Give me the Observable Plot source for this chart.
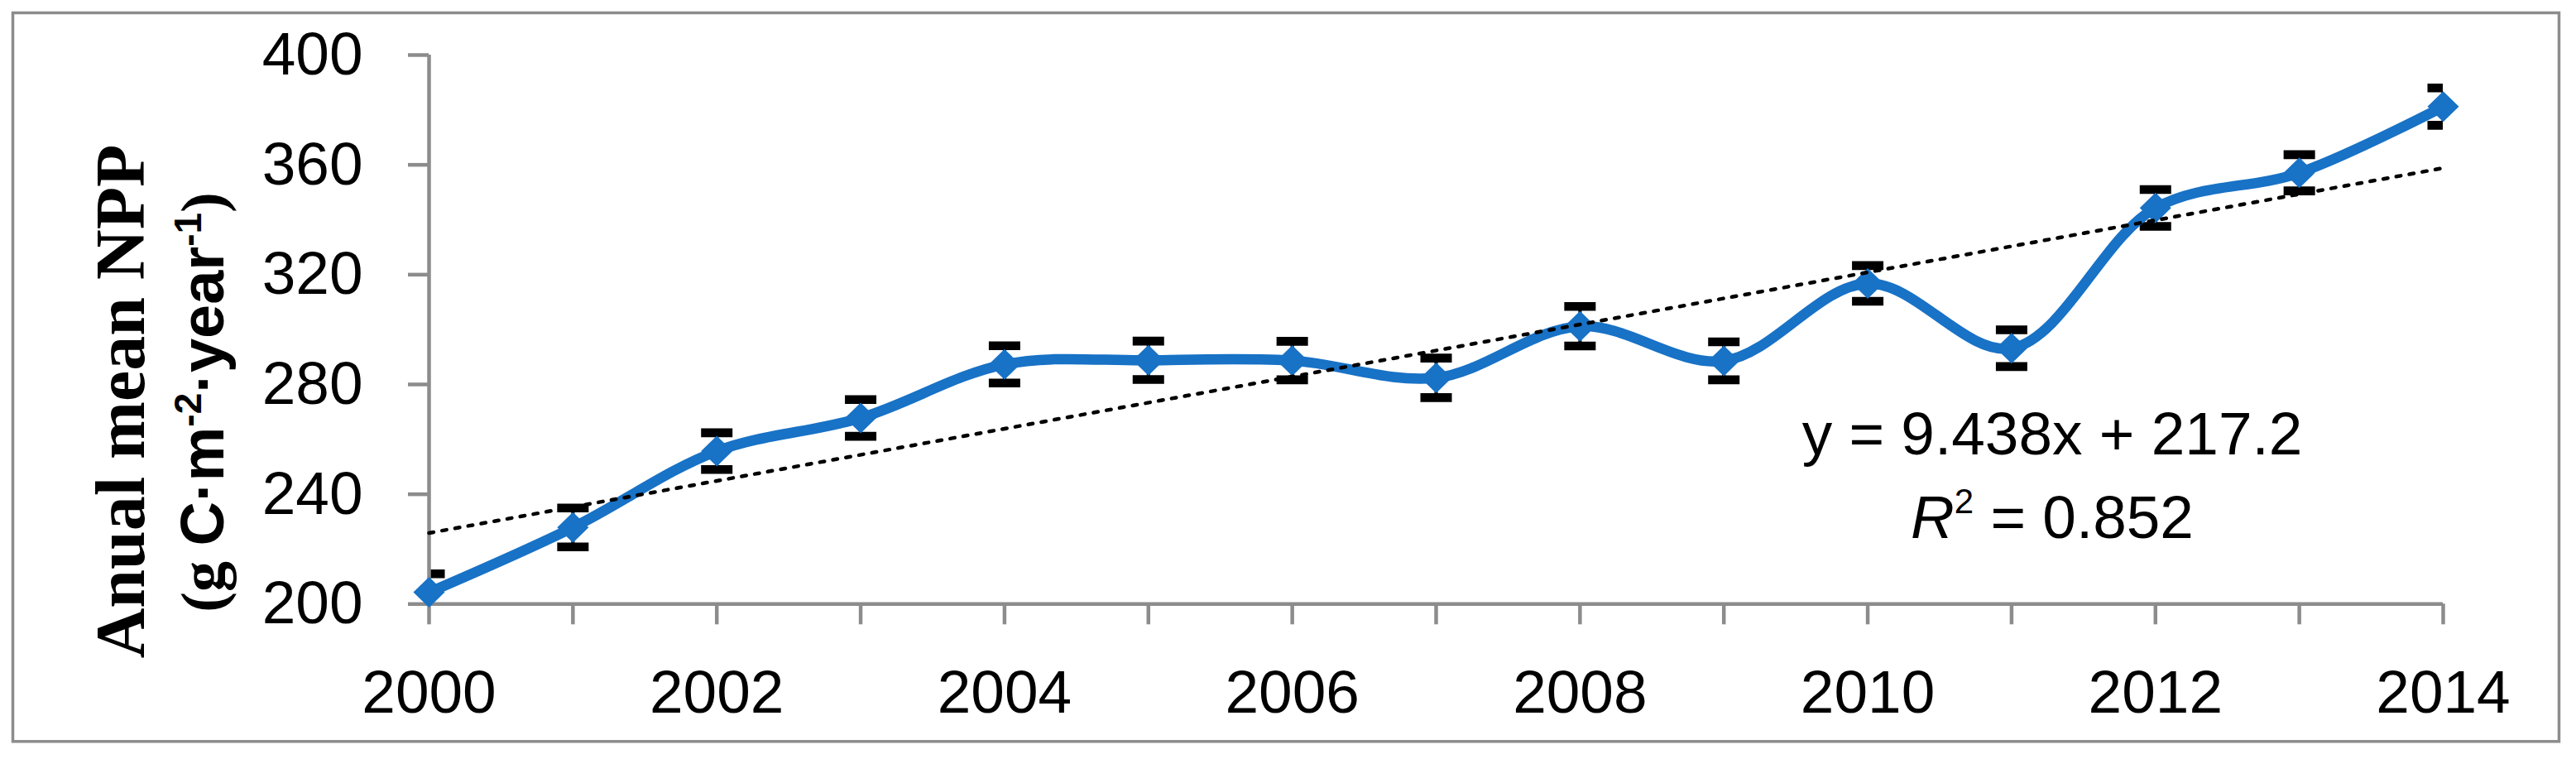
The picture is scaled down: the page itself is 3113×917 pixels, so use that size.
<!DOCTYPE html>
<html>
<head>
<meta charset="utf-8">
<script src="https://cdn.jsdelivr.net/npm/d3@7"></script>
<script src="https://cdn.jsdelivr.net/npm/@observablehq/plot@0.6"></script>
<style>
  html, body { margin: 0; padding: 0; background: #fff; overflow: hidden; }
  #chart { width: 3113px; height: 917px; }
</style>
</head>
<body>
<div id="chart"></div>
<script>
// ---- data ----
const years = [2000, 2001, 2002, 2003, 2004, 2005, 2006, 2007, 2008, 2009, 2010, 2011, 2012, 2013, 2014];
const npp   = [204.3, 227.9, 255.7, 267.8, 287.3, 288.8, 288.7, 282.4, 301.2, 288.6, 316.8, 293.2, 344.3, 357.1, 381.2];
const errs  = [6.7, 7.1, 6.7, 6.7, 6.8, 7.0, 7.0, 7.2, 7.2, 6.9, 6.5, 6.7, 6.7, 6.6, 6.8];
const yTicks = [200, 240, 280, 320, 360, 400];
const xTicks = years;
const xTickLabels = ["2000", "", "2002", "", "2004", "", "2006", "", "2008", "", "2010", "", "2012", "", "2014"];
const yTitle1 = "Anual mean NPP";
const equationText = "y = 9.438x + 217.2";
const r2Text = "0.852";

// ---- styles ----
const blue = "#1872C6";
const gray = "#8C8C8C";

const rows = years.map((year, i) => ({ year, npp: npp[i], lo: npp[i] - errs[i], hi: npp[i] + errs[i] }));

const diamondSymbol = { draw(ctx) { ctx.moveTo(0, -18.5); ctx.lineTo(19, 0); ctx.lineTo(0, 18.5); ctx.lineTo(-19, 0); ctx.closePath(); } };
const capSymbol = { draw(ctx) { ctx.moveTo(-19, -5.3); ctx.lineTo(19, -5.3); ctx.lineTo(19, 5.3); ctx.lineTo(-19, 5.3); ctx.closePath(); } };

const W = 3113, H = 917;
const mL = 518, mR = 161, mT = 66, mB = 187.7;

const svg = Plot.plot({
  width: W,
  height: H,
  marginLeft: mL,
  marginRight: mR,
  marginTop: mT,
  marginBottom: mB,
  style: { fontFamily: "'Liberation Sans', Arial, sans-serif", fontSize: "73px", background: "#fff", color: "#000", overflow: "visible" },
  x: { domain: [years[0], years[years.length - 1]] },
  y: { domain: [yTicks[0], yTicks[yTicks.length - 1]] },
  marks: [
    Plot.frame({ stroke: gray, strokeWidth: 3.5, insetLeft: -(mL - 15), insetTop: -(mT - 15), insetRight: -(3092 - (W - mR)), insetBottom: -(895.3 - (H - mB)) }),
    Plot.ruleX(rows, { x: "year", y1: "lo", y2: "hi", stroke: "#000", strokeWidth: 4, clip: true }),
    Plot.dot(rows, { x: "year", y: "hi", symbol: capSymbol, fill: "#000", stroke: "none", clip: true }),
    Plot.dot(rows, { x: "year", y: "lo", symbol: capSymbol, fill: "#000", stroke: "none", clip: true }),
    Plot.ruleX([years[0]], { stroke: gray, strokeWidth: 4.5 }),
    Plot.ruleY([yTicks[0]], { stroke: gray, strokeWidth: 4.5 }),
    Plot.axisY({ ticks: yTicks, tickSize: 25, tickPadding: 55, stroke: gray, strokeWidth: 4.5, fill: "#000", fontSize: 73, label: null, tickFormat: d => String(d) }),
    Plot.axisX({ ticks: xTicks, tickSize: 25, tickPadding: 54, stroke: gray, strokeWidth: 4.5, fill: "#000", fontSize: 73, label: null, tickFormat: d => xTickLabels[xTicks.indexOf(d)] }),
    Plot.line(rows, { x: "year", y: "npp", curve: "catmull-rom", stroke: blue, strokeWidth: 12.5, strokeLinejoin: "round", strokeLinecap: "round" }),
    Plot.dot(rows, { x: "year", y: "npp", symbol: diamondSymbol, fill: blue, stroke: "none" }),
    Plot.linearRegressionY(rows, { x: "year", y: "npp", ci: 0, stroke: "#000", strokeWidth: 4.5, strokeDasharray: "5.5,10.5", strokeLinecap: "round" })
  ]
});

const s = d3.select(svg);

// y-axis title, line 1
s.append("text")
  .attr("transform", "translate(174,485) rotate(-90)")
  .attr("text-anchor", "middle")
  .style("font-family", "'Liberation Serif', 'Times New Roman', serif")
  .style("font-weight", "bold")
  .style("font-size", "84px")
  .attr("fill", "#000")
  .text(yTitle1);

// y-axis title, line 2 with superscripts
const t2 = s.append("text")
  .attr("transform", "translate(270,486) rotate(-90)")
  .attr("text-anchor", "middle")
  .style("font-weight", "bold")
  .style("font-size", "74px")
  .attr("fill", "#000");
const serif = "'Liberation Serif', 'Times New Roman', serif";
const sans = "'Liberation Sans', Arial, sans-serif";
t2.append("tspan").style("font-family", serif).text("(g ");
t2.append("tspan").style("font-family", sans).text("C·m");
t2.append("tspan").style("font-family", sans).style("font-size", "46px").attr("dy", -27).text("-2");
t2.append("tspan").style("font-family", sans).attr("dy", 27).text("·year");
t2.append("tspan").style("font-family", sans).style("font-size", "46px").attr("dy", -27).text("-1");
t2.append("tspan").style("font-family", serif).attr("dy", 27).text(")");

// regression equation
s.append("text")
  .attr("x", 2480).attr("y", 549)
  .attr("text-anchor", "middle")
  .style("font-family", sans).style("font-size", "73px")
  .attr("fill", "#000")
  .text(equationText);
const t3 = s.append("text")
  .attr("x", 2480).attr("y", 650)
  .attr("text-anchor", "middle")
  .style("font-family", sans).style("font-size", "73px")
  .attr("fill", "#000");
t3.append("tspan").style("font-style", "italic").text("R");
t3.append("tspan").style("font-size", "42px").attr("dy", -30).text("2");
t3.append("tspan").attr("dy", 30).text(" = " + r2Text);

document.getElementById("chart").appendChild(svg);
</script>
</body>
</html>
